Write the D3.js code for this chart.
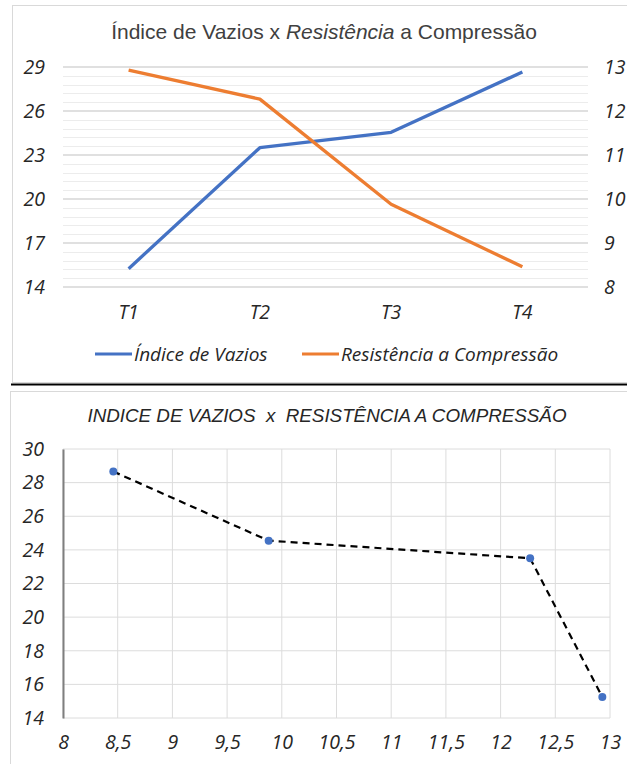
<!DOCTYPE html>
<html>
<head>
<meta charset="utf-8">
<script src="https://cdn.jsdelivr.net/npm/d3@7"></script>
<style>
  html, body { margin: 0; padding: 0; background: #ffffff; }
  svg { display: block; }
</style>
</head>
<body>
<svg id="chart" width="627" height="764"></svg>
<script>
// ---- data ----
const categories = ["T1", "T2", "T3", "T4"];
const voidIndex = [15.25, 23.5, 24.55, 28.66];     // Índice de Vazios (left axis)
const resistance = [12.93, 12.27, 9.88, 8.46];     // Resistência a Compressão (right axis)
const leftTicks = [14, 17, 20, 23, 26, 29];
const rightTicks = [8, 9, 10, 11, 12, 13];
const scatterXTicks = [8, 8.5, 9, 9.5, 10, 10.5, 11, 11.5, 12, 12.5, 13];
const scatterYTicks = [14, 16, 18, 20, 22, 24, 26, 28, 30];
const seriesNames = ["Índice de Vazios", "Resistência a Compressão"];
const seriesColors = ["#4472C4", "#ED7D31"];

const svg = d3.select("#chart");
const labelFont = "'Open Sans', 'Noto Sans', sans-serif";
const titleFont = "'Liberation Sans', Arial, sans-serif";
const fmtComma = d => String(d).replace(".", ",");
const fmtInt = d3.format("d");
const textColor = "#262626";

// ================= TOP CHART =================
svg.append("rect").attr("x", 12.5).attr("y", 5.5).attr("width", 640).attr("height", 377)
  .attr("fill", "#fff").attr("stroke", "#d9d9d9").attr("stroke-width", 1);

const xT = d3.scaleBand().domain(categories).range([63, 588]);
const yL = d3.scaleLinear().domain([14, 29]).range([287, 67]);
const yR = d3.scaleLinear().domain([8, 13]).range([287, 67]);

// minor gridlines
const minor = d3.range(14, 29.0001, 0.6).filter(v => !leftTicks.some(t => Math.abs(t - v) < 1e-6));
svg.append("g").selectAll("line").data(minor).join("line")
  .attr("x1", 63).attr("x2", 588)
  .attr("y1", d => Math.round(yL(d)) + 0.5).attr("y2", d => Math.round(yL(d)) + 0.5)
  .attr("stroke", "#ececec").attr("stroke-width", 1);
// major gridlines
svg.append("g").selectAll("line").data(leftTicks).join("line")
  .attr("x1", 63).attr("x2", 588)
  .attr("y1", d => yL(d)).attr("y2", d => yL(d))
  .attr("stroke", "#d6d6d6").attr("stroke-width", 1.5);

const axL = svg.append("g").attr("transform", "translate(63,0)")
  .call(d3.axisLeft(yL).tickValues(leftTicks).tickFormat(fmtInt).tickSize(0).tickPadding(18));
const axR = svg.append("g").attr("transform", "translate(588,0)")
  .call(d3.axisRight(yR).tickValues(rightTicks).tickFormat(fmtInt).tickSize(0).tickPadding(16));
const axB = svg.append("g").attr("transform", "translate(0,287)")
  .call(d3.axisBottom(xT).tickSize(0).tickPadding(18));
[axL, axR, axB].forEach(a => {
  a.select(".domain").remove();
  a.selectAll("text").attr("font-family", labelFont).attr("font-style", "italic")
    .attr("font-size", 19.5).attr("fill", textColor);
});

const lineGen = ys => d3.line().x((d, i) => xT(categories[i]) + xT.bandwidth() / 2).y(d => ys(d));
svg.append("path").datum(voidIndex).attr("d", lineGen(yL))
  .attr("fill", "none").attr("stroke", seriesColors[0]).attr("stroke-width", 3.3).attr("stroke-linejoin", "round");
svg.append("path").datum(resistance).attr("d", lineGen(yR))
  .attr("fill", "none").attr("stroke", seriesColors[1]).attr("stroke-width", 3.3).attr("stroke-linejoin", "round");

// title
const t1 = svg.append("text").attr("x", 324).attr("y", 39).attr("text-anchor", "middle")
  .attr("font-family", titleFont).attr("font-size", 21).attr("fill", "#404040");
t1.append("tspan").text("Índice de Vazios x ");
t1.append("tspan").attr("font-style", "italic").text("Resistência");
t1.append("tspan").text(" a Compressão");

// legend
const legendX = [95, 302];
seriesNames.forEach((name, i) => {
  svg.append("line").attr("x1", legendX[i]).attr("x2", legendX[i] + 37)
    .attr("y1", 354).attr("y2", 354).attr("stroke", seriesColors[i]).attr("stroke-width", 3);
  svg.append("text").attr("x", legendX[i] + 39).attr("y", 361)
    .attr("font-family", labelFont).attr("font-style", "italic").attr("font-size", 19)
    .attr("fill", textColor).text(name);
});

// separator
svg.append("line").attr("x1", 11).attr("x2", 627).attr("y1", 384.5).attr("y2", 384.5)
  .attr("stroke", "#000").attr("stroke-width", 2);

// ================= BOTTOM CHART =================
svg.append("rect").attr("x", 10.5).attr("y", 391.5).attr("width", 640).attr("height", 400)
  .attr("fill", "#fff").attr("stroke", "#d9d9d9").attr("stroke-width", 1);

const x2 = d3.scaleLinear().domain([8, 13]).range([63, 610]);
const y2 = d3.scaleLinear().domain([14, 30]).range([718, 449]);

svg.append("g").selectAll("line").data(scatterXTicks).join("line")
  .attr("x1", d => x2(d)).attr("x2", d => x2(d)).attr("y1", 449).attr("y2", 718)
  .attr("stroke", "#dcdcdc").attr("stroke-width", 1);
svg.append("g").selectAll("line").data(scatterYTicks).join("line")
  .attr("x1", 63).attr("x2", 610).attr("y1", d => y2(d)).attr("y2", d => y2(d))
  .attr("stroke", "#dcdcdc").attr("stroke-width", 1);

const ax2L = svg.append("g").attr("transform", "translate(63,0)")
  .call(d3.axisLeft(y2).tickValues(scatterYTicks).tickFormat(fmtInt).tickSize(0).tickPadding(19));
ax2L.select(".domain").attr("stroke", "#7f7f7f").attr("stroke-width", 2);
const ax2B = svg.append("g").attr("transform", "translate(0,718)")
  .call(d3.axisBottom(x2).tickValues(scatterXTicks).tickFormat(fmtComma).tickSize(0).tickPadding(17));
ax2B.select(".domain").remove();
[ax2L, ax2B].forEach(a => a.selectAll("text").attr("font-family", labelFont)
  .attr("font-style", "italic").attr("font-size", 19.5).attr("fill", textColor));

const pts = resistance.map((r, i) => ({ x: r, y: voidIndex[i] })).sort((a, b) => a.x - b.x);
svg.append("path").datum(pts)
  .attr("d", d3.line().x(d => x2(d.x)).y(d => y2(d.y)))
  .attr("fill", "none").attr("stroke", "#000").attr("stroke-width", 2.2).attr("stroke-dasharray", "7,5");
svg.append("g").selectAll("circle").data(pts).join("circle")
  .attr("cx", d => x2(d.x)).attr("cy", d => y2(d.y)).attr("r", 4)
  .attr("fill", seriesColors[0]);

svg.append("text").attr("x", 327).attr("y", 422).attr("text-anchor", "middle")
  .attr("font-family", titleFont).attr("font-style", "italic").attr("font-size", 18.8)
  .attr("fill", "#262626").attr("xml:space", "preserve")
  .text("INDICE DE VAZIOS  x  RESISTÊNCIA A COMPRESSÃO");
</script>
</body>
</html>
